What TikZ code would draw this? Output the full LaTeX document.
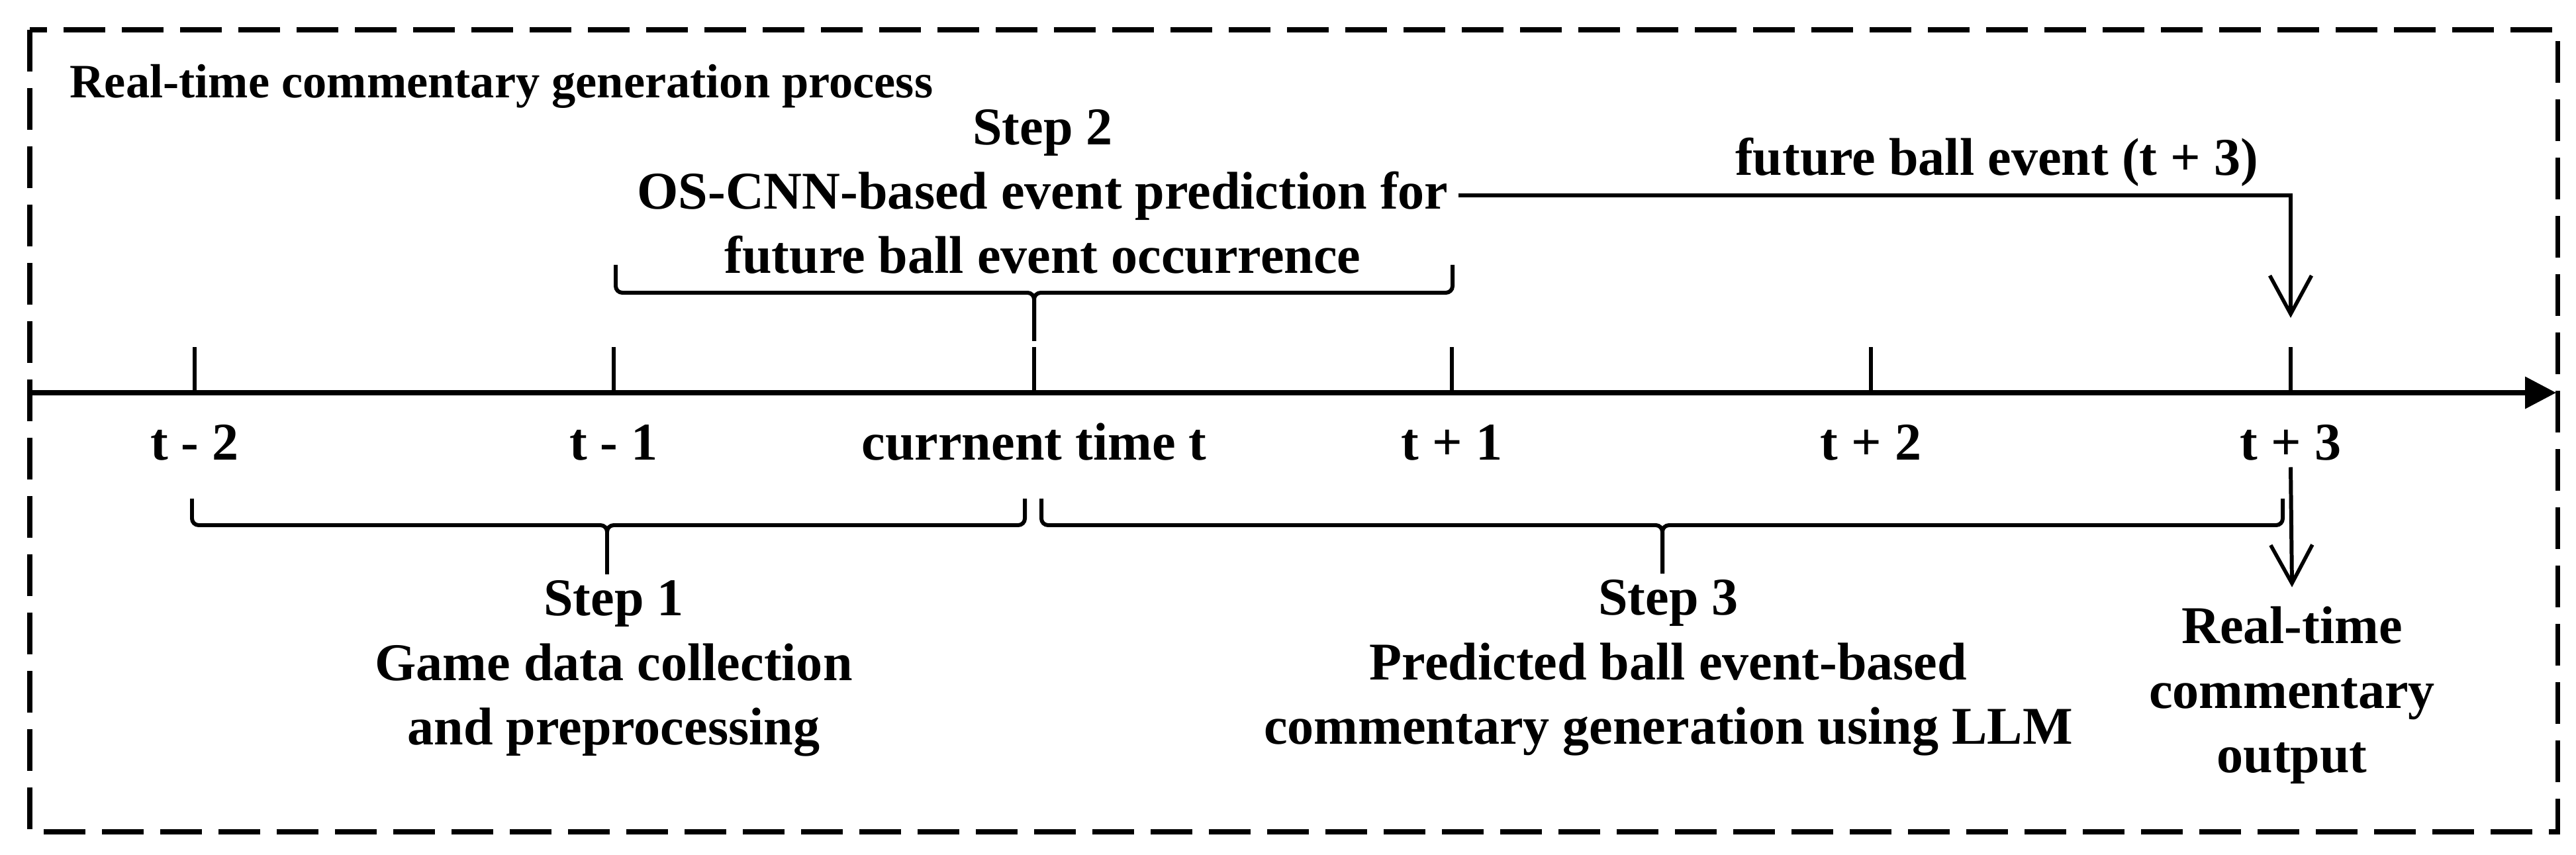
\documentclass[tikz,border=0pt]{standalone}
\usepackage{fontspec}
\setmainfont{Liberation Serif}
\usepackage{tikz}
\usetikzlibrary{arrows.meta, calc}
\tikzset{>=latex}
\tikzset{
  lbl/.style = {font=\fontsize{22.8}{27.6}\selectfont\bfseries, inner sep=0pt, align=center},
  brc/.style = {line width=1.7pt, rounded corners=0.1cm},
  tck/.style = {line width=1.7pt},
  barb/.style = {line width=1.7pt, -{Straight Barb[length=0.58cm, width=0.63cm, line width=1.6pt]}}
}

\begin{document}
\begin{tikzpicture}[x=1cm, y=-1cm]
\useasboundingbox (0,0) rectangle (38.91,12.91);
\draw[line width=2pt, dash pattern=on 0.63cm off 0.25cm] (0.45,0.45) rectangle (38.63,12.56);
\node[anchor=base west, inner sep=0pt, font=\fontsize{20.6}{24}\selectfont\bfseries] (title) at (1.05,1.48) {Real-time commentary generation process};

% time axis
\coordinate (ax0) at (0.45,5.93);
\coordinate (ax1) at (38.61,5.93);
\draw[line width=2.2pt, -{Triangle[length=0.47cm, width=0.47cm]}] (ax0) -- (ax1);
\foreach \i/\x/\txt in {0/2.94/t - 2, 1/9.27/t - 1, 2/15.62/currnent time t, 3/21.93/t + 1, 4/28.26/t + 2, 5/34.60/t + 3}{
  \coordinate (b\i) at (\x,5.93);
  \coordinate (u\i) at (\x,5.24);
  \draw[tck] (b\i) -- (u\i);
  \node[lbl, anchor=base] (lbl\i) at (\x,6.95) {\txt};
}

% step braces
\draw[brc] (2.90,7.53) -- (2.90,7.93) -- (9.17,7.93) -- (9.17,8.67);
\draw[brc] (15.48,7.53) -- (15.48,7.93) -- (9.17,7.93) -- (9.17,8.67);
\draw[brc] (9.30,4.00) -- (9.30,4.42) -- (15.62,4.42) -- (15.62,5.15);
\draw[brc] (21.94,4.00) -- (21.94,4.42) -- (15.62,4.42) -- (15.62,5.15);
\draw[brc] (15.73,7.53) -- (15.73,7.93) -- (25.11,7.93) -- (25.11,8.66);
\draw[brc] (34.48,7.53) -- (34.48,7.93) -- (25.11,7.93) -- (25.11,8.66);

% multi-line texts: base = last line
\node[lbl, anchor=base] (step1) at (9.27,11.24) {Step 1\\Game data collection\\and preprocessing};
\node[lbl, anchor=base] (step2) at (15.75,4.13) {Step 2\\OS-CNN-based event prediction for\\future ball event occurrence};
\node[lbl, anchor=base] (step3) at (25.20,11.23) {Step 3\\Predicted ball event-based\\commentary generation using LLM};
\node[lbl, anchor=base] (out) at (34.62,11.66) {Real-time\\commentary\\output};
\node[lbl, anchor=base] (fut) at (30.16,2.65) {future ball event (t + 3)};

% arrows
\draw[barb] ([xshift=0.15cm, yshift=-0.05cm]step2.east) -| ([yshift=0.44cm]u5);
\draw[barb] ([yshift=-0.09cm]lbl5.south) -- ([yshift=0.29cm]out.north);

\end{tikzpicture}
\end{document}
